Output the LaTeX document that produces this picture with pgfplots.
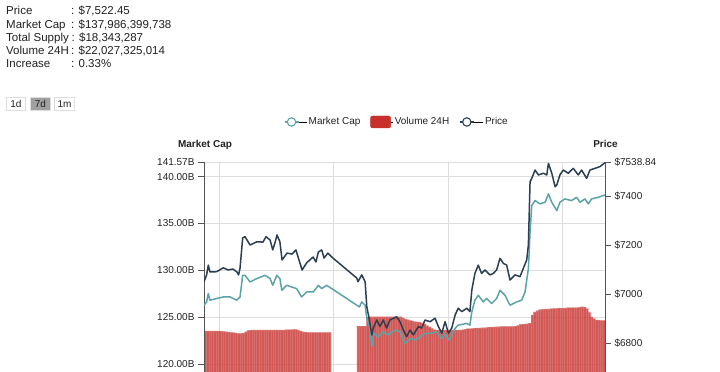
\documentclass[border=0pt]{standalone}
\usepackage{pgfplots}
\pgfplotsset{compat=1.18}
\usepackage{pgfplotstable}
\usepackage{fontspec}
\setmainfont{Liberation Sans}
\definecolor{mcap}{RGB}{92,163,168}
\definecolor{price}{RGB}{44,62,80}
\definecolor{vol}{RGB}{201,48,44}
\definecolor{gridc}{RGB}{221,221,221}
\definecolor{axc}{RGB}{85,85,85}
\definecolor{txt}{RGB}{34,34,34}

\pgfplotstableread{
h v
0 17.6
1 17.6
2 17.6
3 17.6
4 17.6
5 17.6
6 17.6
7 17.5
8 17.4
9 17.3
10 17.1
11 17.0
12 16.9
13 16.7
14 16.5
15 16.6
16 16.7
17 17.3
18 17.8
19 17.9
20 18.0
21 18.0
22 18.0
23 18.0
24 18.0
25 18.0
26 18.0
27 18.0
28 18.0
29 18.0
30 18.1
31 18.1
32 18.0
33 18.1
34 18.2
35 18.2
36 18.2
37 18.3
38 18.3
39 18.0
40 17.6
41 17.3
42 17.1
43 17.0
44 17.0
45 17.0
46 17.0
47 17.0
48 17.0
49 17.0
50 17.0
51 17.0
52 17.0
53 17.0
53.2 17.0
}\volA

\pgfplotstableread{
h v
64 19.7
65 19.7
66 19.7
67 19.7
68 23.6
69 23.7
70 23.7
71 23.7
72 23.7
73 23.7
74 23.7
75 23.7
76 23.7
77 23.7
78 23.7
79 23.7
80 23.7
81 23.7
82 23.7
83 23.2
84 22.7
85 22.4
86 22.1
87 21.8
88 21.6
89 21.5
90 21.4
91 21.0
92 20.6
93 19.9
94 19.3
95 18.7
96 18.2
97 18.1
98 18.0
99 18.0
100 18.0
101 18.0
102 18.0
103 18.0
104 18.0
105 18.0
106 18.0
107 18.1
108 18.2
109 18.4
110 18.6
111 18.6
112 18.7
113 18.8
114 18.9
115 18.9
116 19.0
117 19.0
118 19.1
119 19.2
120 19.3
121 19.3
122 19.4
123 19.4
124 19.5
125 19.5
126 19.5
127 19.5
128 19.5
129 19.6
130 19.7
131 20.0
132 20.4
133 20.5
134 20.6
135 20.7
136 20.9
137 24.5
138 25.8
139 26.3
140 26.7
141 26.8
142 26.9
143 27.0
144 27.1
145 27.2
146 27.3
147 27.3
148 27.4
149 27.4
150 27.4
151 27.5
152 27.6
153 27.6
154 27.6
155 27.6
156 27.6
157 27.8
158 28.0
159 27.8
160 27.2
161 25.5
162 23.6
163 22.9
164 22.3
165 22.2
166 22.1
167 22.1
168 22.1
}\volB

\pgfplotstableread{
h m
0 126.28
1.1 126.63
1.8 127.52
2.5 126.81
5.3 126.99
8.1 127.16
10.9 127.16
13.7 126.81
15.1 127.16
16.2 129.47
17.2 129.47
19.3 128.76
22.1 129.12
25.6 129.47
27.7 129.12
28.8 128.40
30.5 129.47
31.8 129.12
32.6 127.87
34.6 128.40
38.8 128.05
40.9 127.16
43.0 127.69
45.8 127.69
47.9 128.40
49.3 128.05
51.4 128.40
53.5 128.05
64.0 126.28
65.1 126.10
66.1 126.63
67.5 126.28
68.2 124.86
69.5 123.83
70.3 121.84
71.2 123.27
73.0 122.90
75.1 123.44
77.2 123.09
80.0 123.62
82.1 123.44
84.2 122.20
86.3 122.73
88.4 122.55
90.5 122.90
92.6 123.27
94.7 123.27
97.5 123.44
99.6 122.73
101.0 123.27
102.4 122.55
103.8 123.09
105.2 123.80
106.5 124.15
110.1 124.33
111.4 124.15
112.2 125.56
113.5 126.81
114.9 127.34
117.0 126.63
118.4 126.99
120.5 126.46
122.6 126.99
124.0 127.87
126.1 127.34
128.2 126.28
131.0 126.63
133.1 126.81
134.5 127.69
135.9 130.18
136.6 134.07
137.3 136.91
138.7 137.45
140.8 137.10
142.9 137.27
144.3 138.16
145.7 137.27
147.8 136.38
149.1 137.27
151.2 137.63
154.0 137.45
156.1 137.80
157.5 137.27
159.6 137.63
161.0 137.10
162.4 137.63
165.2 137.80
168 138.05
}\mcapdata

\pgfplotstableread{
h p
0 7050
1.1 7078
1.8 7118
2.5 7090
5.3 7091
8.1 7107
10.1 7098
12.1 7102
13.8 7090
14.5 7078
15.1 7106
16.2 7229
17.2 7234
19.3 7200
22.1 7213
24.7 7212
26.0 7234
27.7 7220
28.8 7180
29.7 7208
30.6 7241
31.8 7213
32.7 7139
34.8 7167
36.9 7163
38.5 7180
41.1 7098
43.0 7127
45.7 7151
46.9 7131
47.9 7171
49.3 7180
50.3 7147
51.9 7167
53.5 7151
64.0 7065
64.5 7050
66.1 7078
67.5 7050
68.2 6948
69.3 6894
70.3 6833
70.9 6861
72.4 6894
73.7 6867
75.1 6894
76.5 6861
77.9 6894
80.7 6907
82.1 6887
83.5 6853
84.9 6826
86.3 6853
87.7 6833
89.8 6867
91.2 6861
92.6 6894
94.7 6887
96.8 6901
98.2 6867
99.6 6840
101.0 6887
102.4 6840
103.8 6861
105.2 6914
106.5 6942
108.0 6928
110.1 6942
111.4 6928
112.2 7016
113.5 7084
114.9 7118
116.3 7084
117.7 7098
119.8 7078
121.2 7084
122.6 7098
124.0 7146
125.4 7125
126.8 7118
128.2 7057
130.3 7078
132.4 7071
133.8 7105
135.2 7139
135.9 7200
136.6 7458
137.3 7472
138.7 7506
140.1 7486
142.2 7493
143.6 7486
144.3 7533
145.7 7493
147.1 7438
147.8 7445
149.1 7486
150.5 7506
152.6 7493
154.7 7513
156.8 7486
158.2 7506
160.3 7472
161.7 7506
163.8 7513
165.9 7520
168 7536
}\pricedata

\pgfplotsset{
  common/.style={
    scale only axis, width=401bp, height=240bp,
    at={(204bp,-30bp)}, anchor=south west,
    xmin=0, xmax=168, enlargelimits=false,
    /pgf/number format/assume math mode=true,
    tick label style={font=\fontsize{10bp}{12bp}\selectfont, text=txt},
  },
}

\begin{document}
\begin{tikzpicture}
\useasboundingbox (0,0) rectangle (720bp,372bp);
\fill[white] (0,0) rectangle (720bp,372bp);

% info block
\begin{scope}[every node/.style={anchor=base west, inner sep=0pt, text=txt, font=\fontsize{11.5bp}{13bp}\selectfont}]
\node at (6bp,357bp) {Price};
\node at (71bp,357bp) {: \$7,522.45};
\node at (6bp,343.8bp) {Market Cap};
\node at (71bp,343.8bp) {: \$137,986,399,738};
\node at (6bp,330.6bp) {Total Supply};
\node at (71.5bp,330.6bp) {: \$18,343,287};
\node at (6bp,317.4bp) {Volume 24H};
\node at (71bp,317.4bp) {: \$22,027,325,014};
\node at (6bp,304.2bp) {Increase};
\node at (71bp,304.2bp) {: 0.33\%};
\end{scope}

% range buttons
\draw[gridc, fill=white] (6.5bp,261.5bp) rectangle (25.5bp,274.5bp);
\draw[gridc, fill={rgb,255:red,160;green,160;blue,160}] (30.5bp,261.5bp) rectangle (50.5bp,274.5bp);
\draw[gridc, fill=white] (54.5bp,261.5bp) rectangle (74.5bp,274.5bp);
\begin{scope}[every node/.style={inner sep=0pt, text=txt, font=\fontsize{10bp}{12bp}\selectfont}]
\node at (16bp,268bp) {1d};
\node at (40.5bp,268bp) {7d};
\node at (64.5bp,268bp) {1m};
\end{scope}

% axis titles
\node[anchor=base, inner sep=0pt, text=txt, font=\bfseries\fontsize{10bp}{12bp}\selectfont] at (205bp,224bp) {Market Cap};
\node[anchor=base, inner sep=0pt, text=txt, font=\bfseries\fontsize{10bp}{12bp}\selectfont] at (605.5bp,224bp) {Price};

% grid axis
\begin{axis}[common, ymin=115.94, ymax=141.57,
  xtick={6.3,54.3,102.3,150.3}, xticklabels={},
  ytick={120,125,130,135,140,141.57}, yticklabels={},
  xmajorgrids, ymajorgrids,
  grid style={gridc, line width=0.9bp},
  axis line style={draw=none}, tick style={draw=none}]
\end{axis}

% volume bars
\begin{axis}[common, hide axis, ymin=-12.857, ymax=90]
\addplot[ybar interval, fill=vol, fill opacity=0.8, draw=vol!50!white, draw opacity=0.35, line width=0.25bp] table[x=h,y=v]{\volA};
\addplot[ybar interval, fill=vol, fill opacity=0.8, draw=vol!50!white, draw opacity=0.35, line width=0.25bp] table[x=h,y=v]{\volB};
\end{axis}

% market cap, left axis
\begin{axis}[common, ymin=115.94, ymax=141.57,
  axis x line=none, axis y line*=left,
  axis line style={axc, line width=0.8bp, -},
  ytick={120,125,130,135,140,141.57},
  yticklabels={120.00B,125.00B,130.00B,135.00B,140.00B,141.57B},
  ytick pos=left, tick align=outside, major tick length=6bp,
  tick style={axc, line width=0.8bp}]
\addplot[mcap, line width=1.5bp, line join=round] table[x=h,y=m]{\mcapdata};
\end{axis}

% price, right axis
\begin{axis}[common, ymin=6559.2, ymax=7538.84,
  axis x line=none, axis y line*=right,
  axis line style={axc, line width=0.8bp, -},
  ytick={6800,7000,7200,7400,7538.84},
  yticklabels={\$6800,\$7000,\$7200,\$7400,\$7538.84},
  ytick pos=right, tick align=outside, major tick length=6bp,
  tick style={axc, line width=0.8bp},
  legend columns=3,
  legend style={at={(0.481,1.1667)}, anchor=center, draw=none, fill=none,
    font=\fontsize{10bp}{12bp}\selectfont, text=txt,
    /tikz/every even column/.append style={column sep=8bp}},
  ]
\addlegendimage{legend image code/.code={\path (0bp,0bp) -- (22bp,0bp); \draw[mcap, line width=1.1bp] (0bp,0bp) -- (14bp,0bp); \draw[mcap, line width=1.1bp, fill=white] (7bp,0bp) circle (4.2bp);}}
\addlegendimage{legend image code/.code={\path (0bp,0bp) -- (22bp,0bp); \fill[vol, rounded corners=2bp] (0bp,-6bp) rectangle (20bp,6bp);}}
\addlegendimage{legend image code/.code={\path (0bp,0bp) -- (23bp,0bp); \draw[price, line width=1.1bp] (0bp,0bp) -- (14bp,0bp); \draw[price, line width=1.1bp, fill=white] (7bp,0bp) circle (4.2bp);}}
\addplot[price, line width=1.5bp, line join=round, forget plot] table[x=h,y=p]{\pricedata};
\legend{Market Cap, Volume 24H, Price}
\end{axis}
\end{tikzpicture}
\end{document}
